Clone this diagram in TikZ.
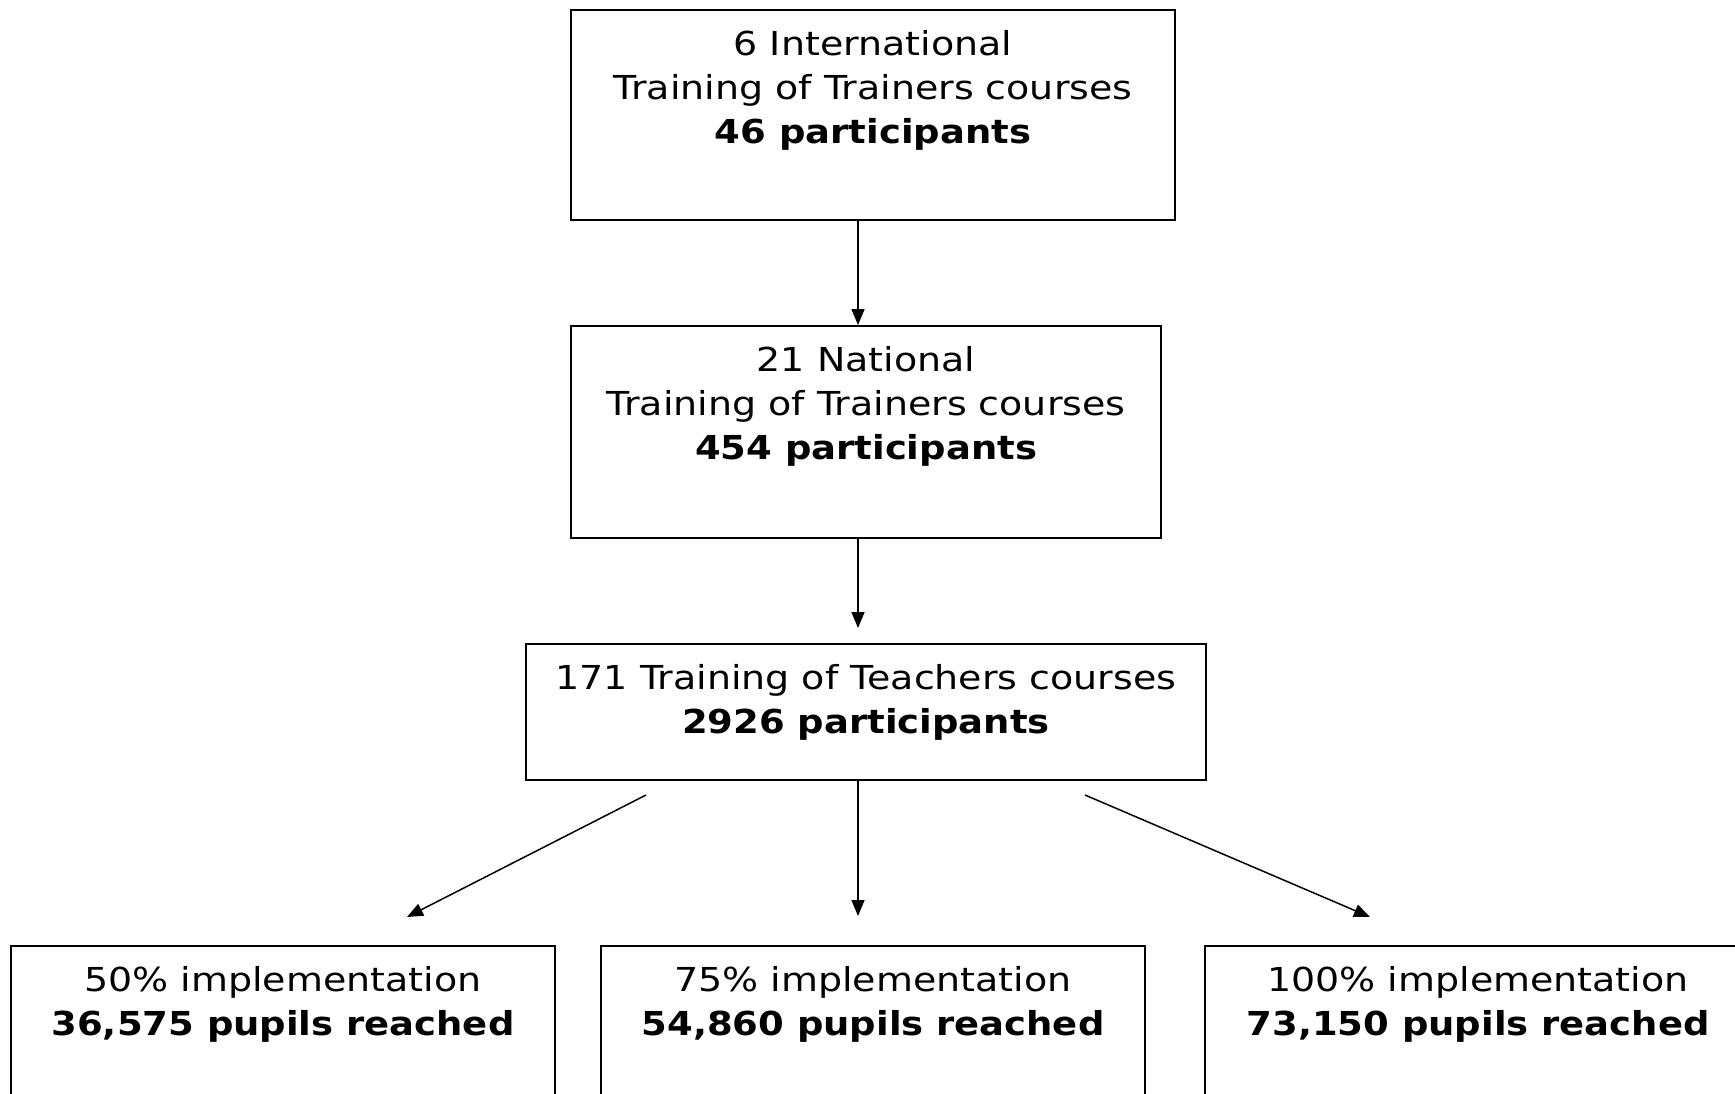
\documentclass[tikz,border=0pt]{standalone}
\usepackage{fontspec}
\setmainfont{DejaVu Sans}[FakeStretch=1.15, BoldFeatures={FakeStretch=1.12}]
\usetikzlibrary{arrows.meta}
\begin{document}
\begin{tikzpicture}[x=0.5pt,y=-0.5pt,
  box/.style={draw, line width=1pt, inner sep=0pt},
  txt/.style={align=center, inner sep=0pt, anchor=north, font=\fontsize{16.5pt}{22pt}\selectfont},
  arr/.style={-{Triangle[length=8pt,width=6.5pt]}, line width=0.75pt}]
\useasboundingbox (0,0) rectangle (1735,1093);
\clip (0,0) rectangle (1735,1093);
% boxes
\node[box, minimum width=302pt, minimum height=105pt] (A) at (873,115) {};
\node[box, minimum width=295pt, minimum height=106pt] (B) at (866,432) {};
\node[box, minimum width=340pt, minimum height=68pt] (C) at (866,712) {};
\node[box, minimum width=272pt, minimum height=102pt] (D) at (283,1048) {};
\node[box, minimum width=272pt, minimum height=102pt] (E) at (873,1048) {};
\node[box, minimum width=273pt, minimum height=102pt] (F) at (1478,1048) {};
% texts
\node[txt] (At) at ([yshift=-10.5pt]A.north) {6 International\\Training of Trainers courses\\\textbf{46 participants}};
\node[txt] (Bt) at ([yshift=-10.5pt]B.north) {21 National\\Training of Trainers courses\\\textbf{454 participants}};
\node[txt] (Ct) at ([yshift=-10.5pt]C.north) {171 Training of Teachers courses\\\textbf{2926 participants}};
\node[txt] (Dt) at ([yshift=-10.5pt]D.north) {50\% implementation\\\textbf{36,575 pupils reached}};
\node[txt] (Et) at ([yshift=-10.5pt]E.north) {75\% implementation\\\textbf{54,860 pupils reached}};
\node[txt] (Ft) at ([yshift=-10.5pt]F.north) {100\% implementation\\\textbf{73,150 pupils reached}};
% connectors
\coordinate (a1) at (858,220);
\draw[arr] (a1) -- (a1 |- B.north);
\coordinate (b1) at (858,538);
\coordinate (b2) at (858,628);
\draw[arr] (b1) -- (b2);
\coordinate (c1) at (858,780);
\coordinate (c2) at (858,916);
\draw[arr] (c1) -- (c2);
\coordinate (l1) at (646,795);
\coordinate (l2) at (407,917);
\draw[arr] (l1) -- (l2);
\coordinate (r1) at (1085,795);
\coordinate (r2) at (1370,917);
\draw[arr] (r1) -- (r2);
\end{tikzpicture}
\end{document}
